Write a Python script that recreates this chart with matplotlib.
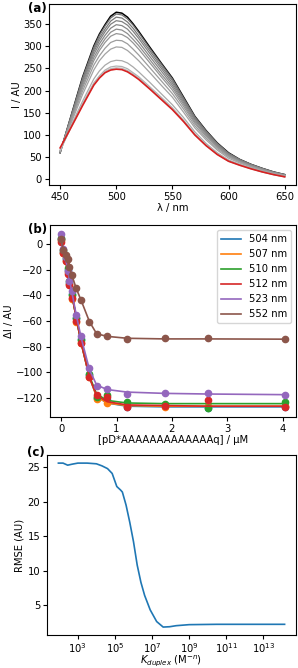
import matplotlib
matplotlib.use("Agg")
import matplotlib.pyplot as plt
import numpy as np

plt.rcParams['font.family'] = ['DejaVu Sans']
plt.rcParams['font.size'] = 7.2

# (a) emission spectra
wavelength = [450, 460, 470, 480, 485, 490, 495, 500, 505, 510, 515, 520, 530, 540, 550,
              560, 570, 580, 590, 600, 610, 620, 630, 640, 650]
spec_start = [60, 145, 230, 300, 327, 348, 367, 376, 374, 365, 350, 333, 297, 262, 228,
              185, 142, 110, 82, 60, 45, 34, 25, 17, 11]
spec_end = [71, 118, 166, 212, 228, 240, 246, 248, 247, 242, 234, 225, 203, 180, 157,
            130, 100, 76, 56, 41, 32, 24, 17, 11, 6]
spec_mid = [
    [60, 144, 228, 297, 324, 345, 363, 372, 370, 361, 347, 330, 294, 260, 226, 183, 141, 109, 81, 59, 45, 34, 25, 17, 11],
    [61, 143, 224, 292, 318, 338, 356, 365, 363, 354, 340, 323, 289, 255, 222, 180, 138, 107, 80, 58, 44, 33, 24, 16, 11],
    [61, 141, 220, 287, 312, 332, 349, 357, 355, 347, 333, 317, 283, 250, 217, 177, 136, 105, 78, 57, 43, 33, 24, 16, 10],
    [62, 139, 216, 281, 305, 324, 340, 348, 346, 338, 324, 309, 276, 244, 212, 173, 133, 103, 76, 56, 42, 32, 23, 16, 10],
    [62, 137, 211, 274, 297, 316, 331, 338, 336, 328, 315, 301, 269, 237, 207, 169, 129, 100, 74, 54, 41, 31, 23, 15, 10],
    [63, 135, 206, 267, 290, 308, 322, 328, 326, 319, 307, 293, 262, 231, 201, 164, 126, 97, 72, 53, 40, 30, 22, 15, 9],
    [63, 132, 199, 257, 278, 295, 308, 313, 312, 305, 293, 280, 251, 222, 193, 158, 121, 93, 69, 51, 39, 29, 21, 14, 9],
    [64, 128, 191, 246, 267, 282, 293, 298, 297, 290, 279, 267, 240, 212, 185, 151, 116, 89, 66, 48, 37, 28, 20, 13, 8],
    [64, 122, 176, 226, 244, 257, 265, 268, 267, 262, 253, 242, 218, 193, 168, 139, 107, 81, 60, 44, 34, 26, 18, 12, 7],
    [65, 119, 170, 217, 233, 246, 253, 255, 254, 249, 240, 231, 208, 185, 161, 133, 102, 78, 57, 42, 33, 25, 17, 11, 6],
    [66, 119, 168, 214, 230, 243, 249, 251, 250, 245, 237, 228, 205, 182, 159, 131, 101, 77, 57, 41, 32, 24, 17, 11, 6],
]

# (b) titration
conc = [0, 0.04, 0.08, 0.12, 0.145, 0.19, 0.27, 0.36, 0.51, 0.64, 0.83, 1.19, 1.87, 2.66, 4.04]
labels_b = ['504 nm', '507 nm', '510 nm', '512 nm', '523 nm', '552 nm']
d504 = [4, -6, -12, -20, -30, -39, -58, -74, -102, -120, -122, -127, -126, -128, -127]
d507 = [3, -7, -13, -22, -31, -43, -61, -77, -104, -121, -124, -126, -127, -126, -126]
d510 = [5, -5, -11, -19, -29, -40, -58, -75, -101, -119, -118, -123, -125, -128, -123]
d512 = [2, -7, -13, -23, -32, -42, -60, -77, -104, -118, -119, -127, -126, -122, -127]
d523 = [8, -4, -10, -21, -29, -37, -55, -72, -97, -111, -113, -117, -116, -116, -118]
d552 = [4, -4.7, -8.6, -11.8, -17.8, -23.8, -34.3, -43.5, -61, -70.2, -71.5, -74.2, -73.6, -72.9, -74.2]
f504 = [2, -6, -13, -21, -28, -39, -57, -77, -104, -119, -124, -126.5, -127, -127, -127]
f507 = [2, -6, -13, -21, -28, -39, -57, -77, -104, -119, -124, -126, -126.5, -126.5, -126.5]
f510 = [2, -6, -13, -21, -28, -39, -57, -77, -103, -117, -122, -124, -124.5, -124.5, -124.5]
f512 = [2, -6, -13, -21, -28, -39, -57, -77, -104, -118, -123, -125.5, -126, -126.5, -126.5]
f523 = [3, -5, -12, -20, -27, -37, -55, -73, -98, -110, -113.5, -115.5, -116.5, -117, -117.5]
f552 = [3, -4.5, -8.5, -12, -17.5, -24, -34.5, -44, -60.5, -70, -72, -73.5, -74, -74, -74.2]

# (c) RMSE scan
log_k = [1.95, 2.2, 2.45, 2.7, 3.0, 3.5, 4.0, 4.3, 4.6, 4.85, 5.1, 5.3, 5.4, 5.6, 5.8,
         6.0, 6.2, 6.4, 6.6, 6.9, 7.25, 7.6, 7.95, 8.3, 9.0, 10.5, 12.0, 14.15]
rmse = [25.6, 25.6, 25.3, 25.45, 25.6, 25.6, 25.5, 25.2, 24.8, 24.1, 22.2, 21.7, 21.4, 19.5, 17.0,
        14.2, 10.8, 8.3, 6.4, 4.3, 2.6, 1.8, 1.85, 2.0, 2.15, 2.2, 2.2, 2.2]


fig = plt.figure(figsize=(2.98, 6.68), dpi=100)
ax1 = fig.add_axes([0.164, 0.723, 0.829, 0.271])
ax2 = fig.add_axes([0.168, 0.376, 0.825, 0.287])
ax3 = fig.add_axes([0.158, 0.049, 0.835, 0.270])

# (a)
ax1.plot(wavelength, spec_start, color='black', lw=1.1)
greys = np.linspace(0.45, 0.72, len(spec_mid))
for i, s in enumerate(spec_mid):
    ax1.plot(wavelength, s, color=str(greys[i]), lw=0.9)
ax1.plot(wavelength, spec_end, color='#d62020', lw=1.2)
ax1.set_xlabel('λ / nm', labelpad=1)
ax1.set_ylabel('I / AU', labelpad=1)
ax1.set_yticks([0, 50, 100, 150, 200, 250, 300, 350])

# (b)
colors = ['C0', 'C1', 'C2', 'C3', 'C4', 'C5']
data_b = [d504, d507, d510, d512, d523, d552]
fit_b = [f504, f507, f510, f512, f523, f552]
for d, f, c, lab in zip(data_b, fit_b, colors, labels_b):
    ax2.plot(conc, d, 'o', color=c, ms=4.5)
    ax2.plot(conc, f, '-', color=c, lw=1.2, label=lab)
ax2.set_xlabel('[pD*AAAAAAAAAAAAAq] / µM', labelpad=1)
ax2.set_ylabel('ΔI / AU', labelpad=1)
ax2.set_yticks([0, -20, -40, -60, -80, -100, -120])
ax2.legend(loc='upper right', fontsize=7.2)

# (c)
ax3.plot(10.0 ** np.array(log_k), rmse, color='C0', lw=1.2)
ax3.set_xscale('log')
ax3.set_xticks([1e3, 1e5, 1e7, 1e9, 1e11, 1e13])
ax3.minorticks_off()
ax3.set_ylabel('RMSE (AU)', labelpad=2)
ax3.set_yticks([5, 10, 15, 20, 25])

for ax in (ax1, ax2, ax3):
    ax.tick_params(length=3, pad=2)
ax3.tick_params(axis='x', pad=1)
ax3.set_xlabel(r'$K_{duplex}$ (M$^{-n}$)', labelpad=-1)

fig.text(0.094, 0.988, '(a)', fontsize=8.5, fontweight='bold', ha='left', va='center')
fig.text(0.094, 0.656, '(b)', fontsize=8.5, fontweight='bold', ha='left', va='center')
fig.text(0.090, 0.323, '(c)', fontsize=8.5, fontweight='bold', ha='left', va='center')

fig.savefig('out.png', dpi=100)
